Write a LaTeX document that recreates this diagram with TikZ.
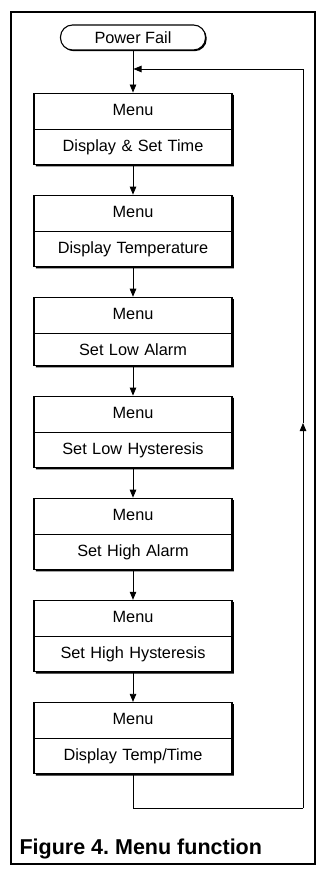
\documentclass[tikz,border=0pt]{standalone}
\usepackage{fontspec}
\setmainfont{Liberation Sans}
\usetikzlibrary{shapes.multipart,arrows.meta,positioning,shadows}

\tikzset{
    menubox/.style={rectangle split, rectangle split parts=2, draw, line width=1.1pt,
        fill=white, text width=190pt, inner xsep=4pt, inner ysep=9.5pt, align=center,
        text height=12pt, text depth=4pt,
        drop shadow={shadow xshift=1.8pt, shadow yshift=-1.8pt, opacity=1, fill=black}},
    terminal/.style={draw, line width=1.1pt, fill=white, rounded corners=12pt,
        minimum width=145pt, minimum height=25pt,
        drop shadow={shadow xshift=1.2pt, shadow yshift=-1.2pt, opacity=1, fill=black}},
    flow/.style={-{Triangle[length=8pt,width=6.5pt]}, line width=0.8pt},
    link/.style={line width=0.8pt}
}

\begin{document}
\frenchspacing
\begin{tikzpicture}[x=1pt, y=1pt, every node/.style={font=\fontsize{16.3}{19}\selectfont}]
    \useasboundingbox (0,0) rectangle (321,-872);
    \draw[line width=1.4pt] (11,-12) rectangle (315,-864);

    \node[terminal] (b0) at (133,-37.5) {Power Fail};
    \node[menubox, below=42pt of b0] (b1) {Menu\nodepart{two}Display \& Set Time};
    \draw[flow] (b0) -- (b1);
    \foreach \i/\txt in {
        2/Display Temperature,
        3/Set Low Alarm,
        4/Set Low Hysteresis,
        5/Set High Alarm,
        6/Set High Hysteresis,
        7/{Display Temp/Time}
    } {
        \pgfmathtruncatemacro\prev{\i-1}
        \node[menubox, below=29.6pt of b\prev] (b\i) {Menu\nodepart{two}\txt};
        \draw[flow] (b\prev) -- (b\i);
    }

    % return path
    \coordinate (join) at (133.5,-69);
    \coordinate (farlow) at (303,-808);
    \coordinate (farmid) at (303,-423);
    \draw[link] (b7.south) |- (farlow);
    \draw[flow] (farlow) -- (farmid);
    \draw[flow] (farmid) |- (join);

    \node[anchor=west, font=\fontsize{21.5}{24}\bfseries] (caption) at (16,-849) {Figure 4. Menu function};
\end{tikzpicture}
\end{document}
